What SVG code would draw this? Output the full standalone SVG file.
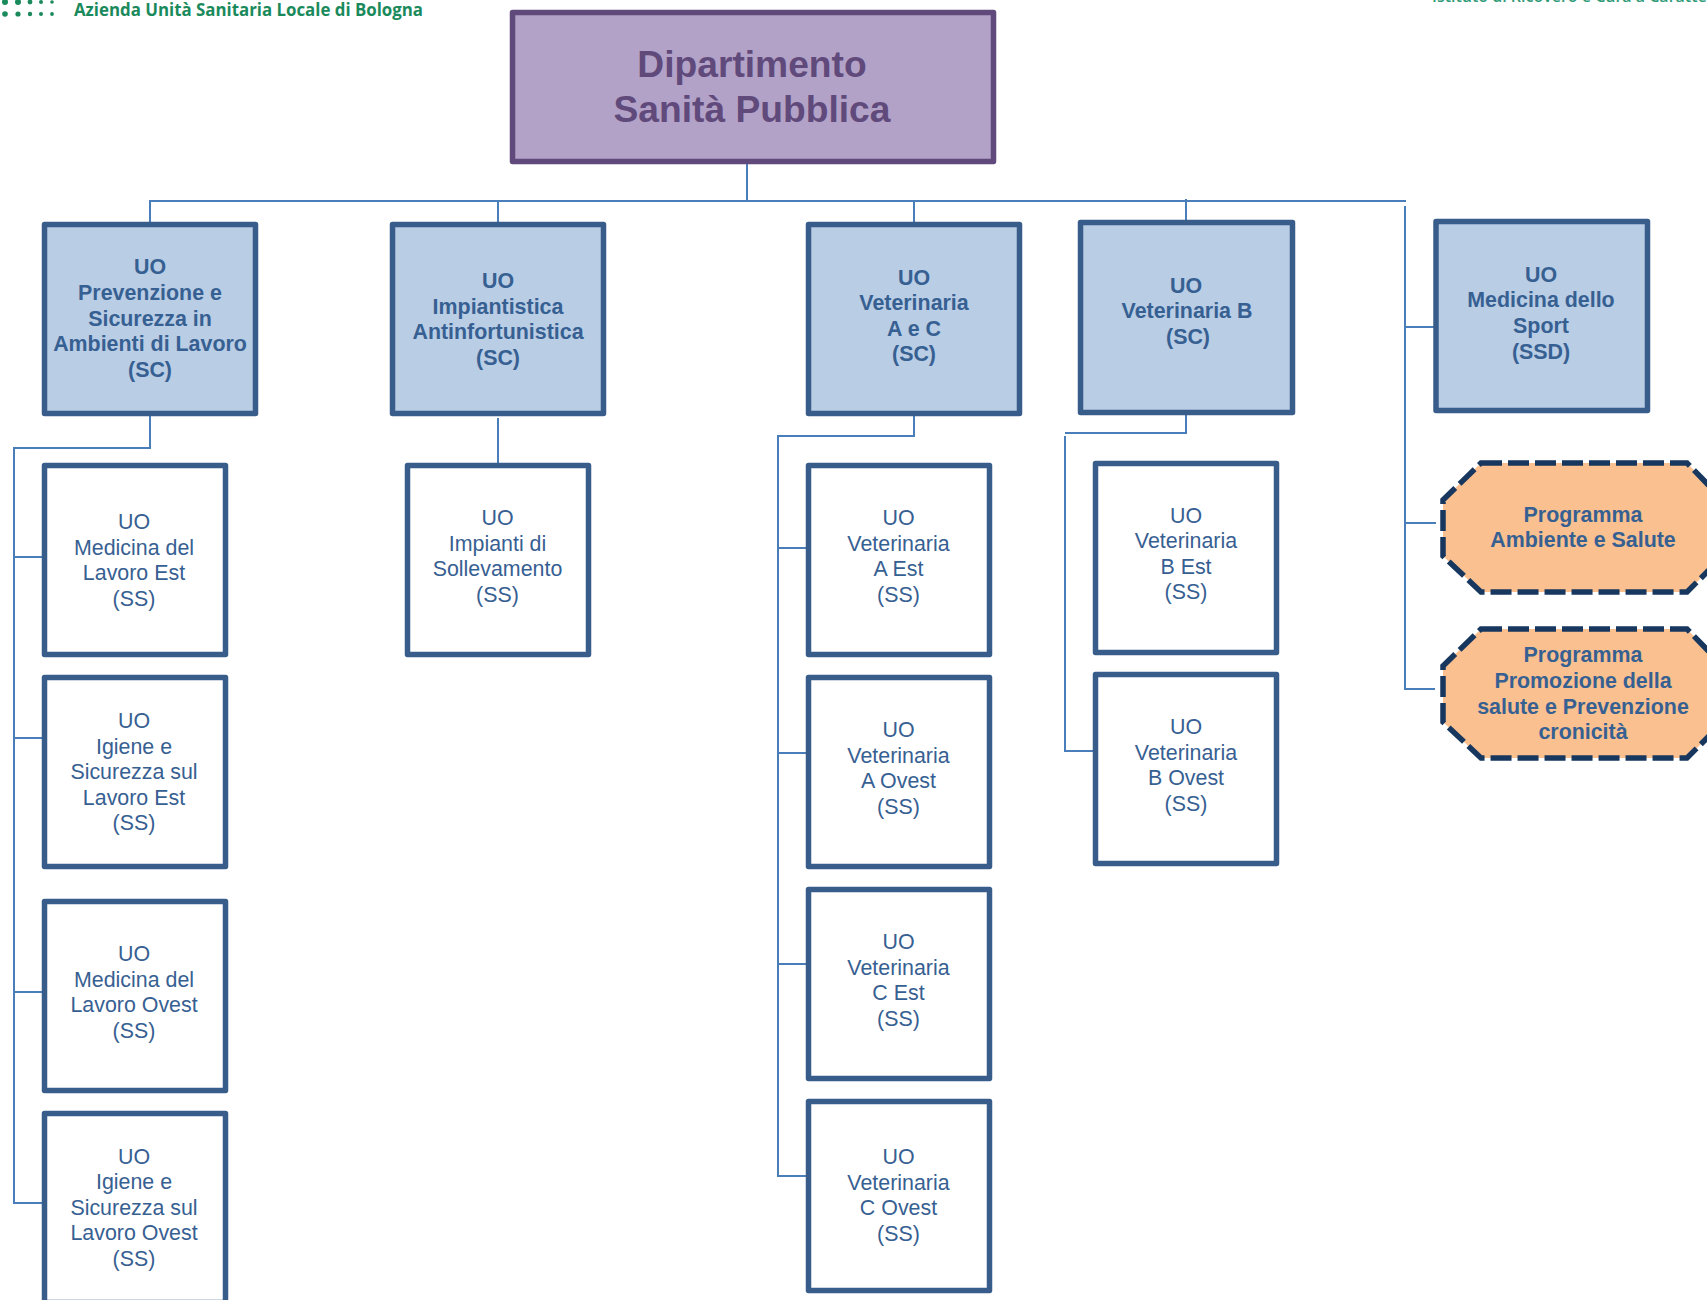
<svg xmlns="http://www.w3.org/2000/svg" width="1707" height="1300" viewBox="0 0 1707 1300">
<style>
text{font-family:"Liberation Sans",Arial,sans-serif;text-anchor:middle;fill:#376092;transform:translateY(-1px)}
.top{fill:#b3a2c7;stroke:#604a7b;stroke-width:5.500;stroke-linejoin:round}
.top-t{font-size:37.200px;font-weight:bold;fill:#604a7b}
.sc{fill:#b9cde5;stroke:#385d8a;stroke-width:5.500;stroke-linejoin:round}
.ss{fill:#fff;stroke:#385d8a;stroke-width:5.500;stroke-linejoin:round}
.b{font-size:21.400px;font-weight:bold}
.r{font-size:21.400px}
.oct{fill:#fac090;stroke:#17375e;stroke-width:5.500;stroke-dasharray:21 6}
#connectors path{fill:none;stroke:#4a7ebb;stroke-width:2}
.logo{font-family:"Open Sans",sans-serif;font-weight:700;fill:#1a8a5c;text-anchor:start;transform:none}
.dot{fill:#1a8a5c}
</style>
<g id="logo">
<circle class="dot" cx="5" cy="2" r="3"/><circle class="dot" cx="18" cy="2" r="3"/><circle class="dot" cx="30" cy="2" r="2.400"/><circle class="dot" cx="41" cy="2" r="2"/><circle class="dot" cx="52" cy="2" r="1.800"/>
<circle class="dot" cx="5" cy="14" r="2.800"/><circle class="dot" cx="18" cy="14" r="2.600"/><circle class="dot" cx="30" cy="14" r="2.200"/><circle class="dot" cx="41" cy="14" r="2"/><circle class="dot" cx="52" cy="14" r="1.900"/>
<text class="logo" x="74" y="16" font-size="18" textLength="349" lengthAdjust="spacingAndGlyphs">Azienda Unità Sanitaria Locale di Bologna</text>
<text class="logo" x="1432" y="2" font-size="16" style="font-weight:600;fill:#2f9a78">Istituto di Ricovero e Cura a Carattere</text>
</g>
<g id="connectors">
<path d="M747 162V201M150 224V201H1406M498 201V224M914 201V224M1186 199V220"/>
<path d="M1405 206V689H1435M1405 327H1434M1405 523H1436"/>
<path d="M150 415V448H14V1203H42M14 557H42M14 738H42M14 992H42"/>
<path d="M498 418V470"/>
<path d="M914 410V436H778V1176H807M778 548H807M778 753H807M778 964H807"/>
<path d="M1186 406V433H1065M1065 436V751H1094"/>
</g>
<g id="dept"><rect class="top" x="512.500" y="12.500" width="481" height="149"/><text class="top-t"><tspan x="752" y="78">Dipartimento</tspan><tspan x="752" y="123">Sanità Pubblica</tspan></text></g>
<g id="uo-prevenzione"><rect class="sc" x="44.500" y="224.500" width="211" height="189"/><text class="b"><tspan x="150" y="275">UO</tspan><tspan x="150" y="301">Prevenzione e</tspan><tspan x="150" y="326.500">Sicurezza in</tspan><tspan x="150" y="352">Ambienti di Lavoro</tspan><tspan x="150" y="378">(SC)</tspan></text></g>
<g id="uo-impiantistica"><rect class="sc" x="392.500" y="224.500" width="211" height="189"/><text class="b"><tspan x="498" y="289">UO</tspan><tspan x="498" y="315">Impiantistica</tspan><tspan x="498" y="340">Antinfortunistica</tspan><tspan x="498" y="366">(SC)</tspan></text></g>
<g id="uo-vet-ac"><rect class="sc" x="808.500" y="224.500" width="211" height="189"/><text class="b"><tspan x="914" y="286">UO</tspan><tspan x="914" y="311">Veterinaria</tspan><tspan x="914" y="337">A e C</tspan><tspan x="914" y="362">(SC)</tspan></text></g>
<g id="uo-vet-b"><rect class="sc" x="1080.500" y="222.500" width="212" height="190"/><text class="b"><tspan x="1186" y="294">UO</tspan><tspan x="1187" y="319">Veterinaria B</tspan><tspan x="1188" y="345">(SC)</tspan></text></g>
<g id="uo-sport"><rect class="sc" x="1436" y="221.500" width="211.500" height="189"/><text class="b"><tspan x="1541" y="283">UO</tspan><tspan x="1541" y="308">Medicina dello</tspan><tspan x="1541" y="334">Sport</tspan><tspan x="1541" y="360">(SSD)</tspan></text></g>
<g id="ss-medicina-est"><rect class="ss" x="44.500" y="465.500" width="181" height="189"/><text class="r"><tspan x="134" y="530">UO</tspan><tspan x="134" y="556">Medicina del</tspan><tspan x="134" y="581">Lavoro Est</tspan><tspan x="134" y="607">(SS)</tspan></text></g>
<g id="ss-igiene-est"><rect class="ss" x="44.500" y="677.500" width="181" height="189"/><text class="r"><tspan x="134" y="729">UO</tspan><tspan x="134" y="755">Igiene e</tspan><tspan x="134" y="780">Sicurezza sul</tspan><tspan x="134" y="806">Lavoro Est</tspan><tspan x="134" y="831">(SS)</tspan></text></g>
<g id="ss-medicina-ovest"><rect class="ss" x="44.500" y="901.500" width="181" height="189"/><text class="r"><tspan x="134" y="962">UO</tspan><tspan x="134" y="988">Medicina del</tspan><tspan x="134" y="1013">Lavoro Ovest</tspan><tspan x="134" y="1039">(SS)</tspan></text></g>
<g id="ss-igiene-ovest"><rect class="ss" x="44.500" y="1113.500" width="181" height="189"/><text class="r"><tspan x="134" y="1165">UO</tspan><tspan x="134" y="1190">Igiene e</tspan><tspan x="134" y="1216">Sicurezza sul</tspan><tspan x="134" y="1241">Lavoro Ovest</tspan><tspan x="134" y="1267">(SS)</tspan></text></g>
<g id="ss-sollevamento"><rect class="ss" x="407.500" y="465.500" width="181" height="189"/><text class="r"><tspan x="497.500" y="526">UO</tspan><tspan x="497.500" y="552">Impianti di</tspan><tspan x="497.500" y="577">Sollevamento</tspan><tspan x="497.500" y="603">(SS)</tspan></text></g>
<g id="ss-vet-a-est"><rect class="ss" x="808.500" y="465.500" width="181" height="189"/><text class="r"><tspan x="898.500" y="526">UO</tspan><tspan x="898.500" y="552">Veterinaria</tspan><tspan x="898.500" y="577">A Est</tspan><tspan x="898.500" y="603">(SS)</tspan></text></g>
<g id="ss-vet-a-ovest"><rect class="ss" x="808.500" y="677.500" width="181" height="189"/><text class="r"><tspan x="898.500" y="738">UO</tspan><tspan x="898.500" y="764">Veterinaria</tspan><tspan x="898.500" y="789">A Ovest</tspan><tspan x="898.500" y="815">(SS)</tspan></text></g>
<g id="ss-vet-c-est"><rect class="ss" x="808.500" y="889.500" width="181" height="189"/><text class="r"><tspan x="898.500" y="950">UO</tspan><tspan x="898.500" y="976">Veterinaria</tspan><tspan x="898.500" y="1001">C Est</tspan><tspan x="898.500" y="1027">(SS)</tspan></text></g>
<g id="ss-vet-c-ovest"><rect class="ss" x="808.500" y="1101.500" width="181" height="189"/><text class="r"><tspan x="898.500" y="1165">UO</tspan><tspan x="898.500" y="1191">Veterinaria</tspan><tspan x="898.500" y="1216">C Ovest</tspan><tspan x="898.500" y="1242">(SS)</tspan></text></g>
<g id="ss-vet-b-est"><rect class="ss" x="1095.500" y="463.500" width="181" height="189"/><text class="r"><tspan x="1186" y="524">UO</tspan><tspan x="1186" y="549">Veterinaria</tspan><tspan x="1186" y="575">B Est</tspan><tspan x="1186" y="600">(SS)</tspan></text></g>
<g id="ss-vet-b-ovest"><rect class="ss" x="1095.500" y="674.500" width="181" height="189"/><text class="r"><tspan x="1186" y="735">UO</tspan><tspan x="1186" y="761">Veterinaria</tspan><tspan x="1186" y="786">B Ovest</tspan><tspan x="1186" y="812">(SS)</tspan></text></g>
<g id="prog-ambiente"><path class="oct" d="M1481 463H1687L1723 500V556L1687 592H1481L1443 556V500Z"/><text class="b"><tspan x="1583" y="523">Programma</tspan><tspan x="1583" y="548">Ambiente e Salute</tspan></text></g>
<g id="prog-promozione"><path class="oct" d="M1481 629H1687L1723 666V722L1687 758H1481L1443 722V666Z"/><text class="b"><tspan x="1583" y="663">Programma</tspan><tspan x="1583" y="689">Promozione della</tspan><tspan x="1583" y="715">salute e Prevenzione</tspan><tspan x="1583" y="740">cronicità</tspan></text></g>
</svg>
